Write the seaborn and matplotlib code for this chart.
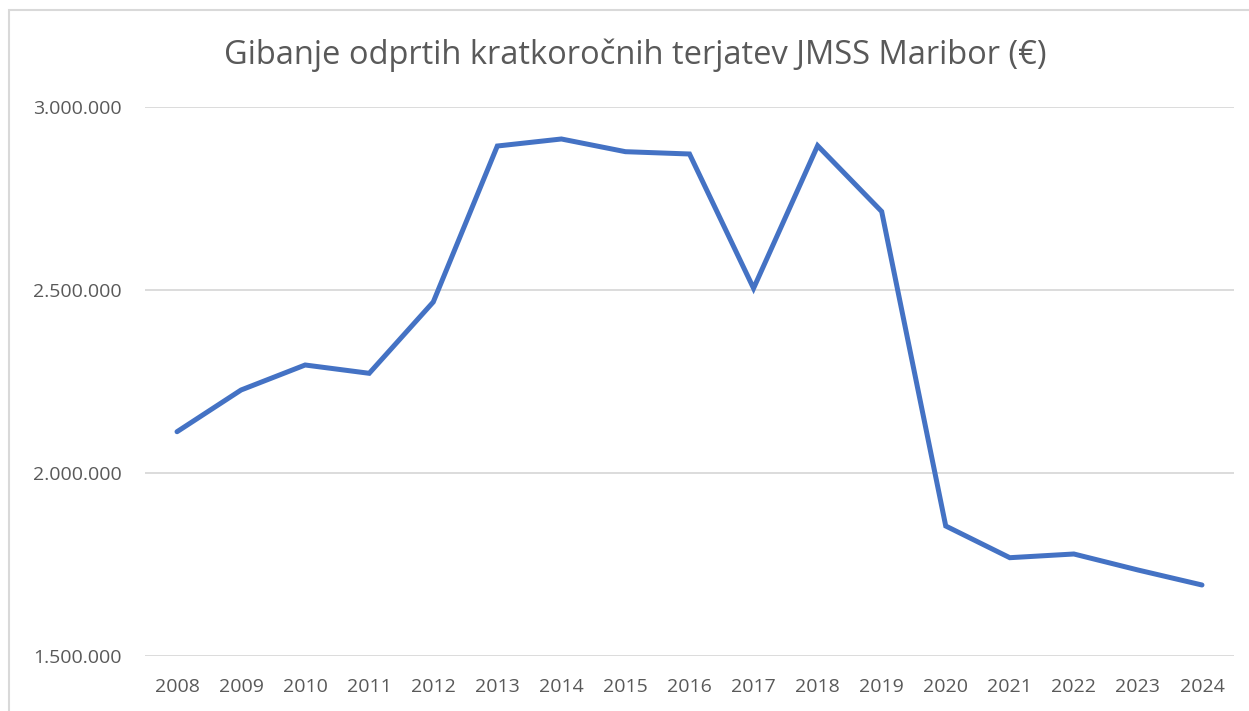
import pandas as pd
import numpy as np
import matplotlib
matplotlib.use("Agg")
import matplotlib.pyplot as plt
import seaborn as sns
from matplotlib.ticker import FuncFormatter
from matplotlib.patches import Rectangle

# data
years = ['2008', '2009', '2010', '2011', '2012', '2013', '2014', '2015', '2016',
         '2017', '2018', '2019', '2020', '2021', '2022', '2023', '2024']
terjatve = [2112800, 2226800, 2295100, 2272400, 2467200, 2893400, 2912600, 2877900,
            2871600, 2504600, 2894300, 2714500, 1855200, 1768600, 1778700, 1735000, 1694000]
y_ticks = [1500000, 2000000, 2500000, 3000000]

df = pd.DataFrame({'leto': years, 'vrednost': terjatve})
df['pos'] = np.arange(len(df))

sns.set_theme(style="white")
plt.rcParams['font.family'] = ['Open Sans', 'DejaVu Sans']

fig = plt.figure(figsize=(12.49, 7.11), dpi=100)
ax = fig.add_axes([145 / 1249, 1 - 656 / 711, 1089 / 1249, 549 / 711])

sns.lineplot(data=df, x='pos', y='vrednost', ax=ax, color='#4472C4', linewidth=3.6,
             solid_capstyle='round', solid_joinstyle='miter', zorder=3)

ax.set_xlim(-0.5, len(years) - 0.5)
ax.set_ylim(y_ticks[0], y_ticks[-1])
ax.set_xticks(df['pos'])
ax.set_xticklabels(years)
ax.set_yticks(y_ticks)
ax.yaxis.set_major_formatter(FuncFormatter(lambda v, p: f"{int(v):,}".replace(',', '.')))
ax.grid(axis='y', color='#d9d9d9', linewidth=1.3)
ax.set_axisbelow(True)
for s in ax.spines.values():
    s.set_visible(False)
ax.tick_params(axis='both', length=0, labelsize=14, labelcolor='#595959')
ax.tick_params(axis='x', pad=16)
ax.tick_params(axis='y', pad=17)
ax.set_xlabel('')
ax.set_ylabel('')

fig.text(0.509, 1 - 55 / 711, 'Gibanje odprtih kratkoročnih terjatev JMSS Maribor (€)',
         ha='center', va='center', fontsize=23.5, color='#595959')

# chart border (cropped on right and bottom)
fig.patches.append(Rectangle((8.5 / 1249, -0.1), 1.2, 1 - 9.5 / 711 + 0.1,
                             transform=fig.transFigure, fill=False,
                             edgecolor='#d9d9d9', linewidth=1.5))

fig.savefig('out.png', dpi=100, facecolor='white')
